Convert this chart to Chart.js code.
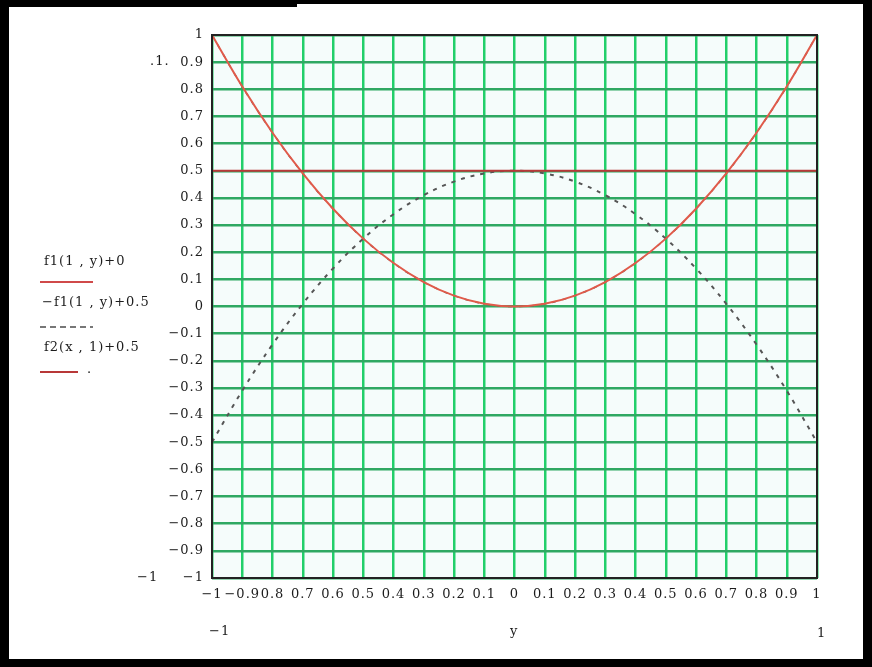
<!DOCTYPE html>
<html>
<head>
<meta charset="utf-8">
<script src="https://cdn.jsdelivr.net/npm/chart.js@4"></script>
<style>
  body { margin: 0; width: 872px; height: 667px; background: #000; position: relative; overflow: hidden; }
  #sheet { position: absolute; left: 9px; top: 7px; width: 854px; height: 652px; background: #fff; }
  #notch { position: absolute; left: 297px; top: 4px; width: 566px; height: 4px; background: #fff; }
  canvas { position: absolute; left: 0; top: 0; }
  .lbl { position: absolute; font-family: "DejaVu Serif", serif; font-size: 13px; letter-spacing: 1px; color: #1c1c1c; white-space: nowrap; }
  .mark { position: absolute; height: 2px; }
</style>
</head>
<body>
<div id="notch"></div>
<div id="sheet">
  <canvas id="graf" width="854" height="652"></canvas>
  <div class="lbl" style="left:35px;top:246px">f1(1 , y)+0</div>
  <div class="mark" style="left:31px;top:274px;width:53px;background:#d04a4a"></div>
  <div class="lbl" style="left:33px;top:287px">&minus;f1(1 , y)+0.5</div>
  <div class="mark" style="left:31px;top:319px;width:53px;background:repeating-linear-gradient(90deg,#777 0 6px,transparent 6px 10px)"></div>
  <div class="lbl" style="left:35px;top:332px">f2(x , 1)+0.5</div>
  <div class="mark" style="left:31px;top:364px;width:38px;background:#b83838"></div>
  <div class="lbl" style="left:78px;top:354px">.</div>
  <div class="lbl" style="left:141px;top:46px">.1.</div>
  <div class="lbl" style="left:128px;top:562px">&minus;1</div>
  <div class="lbl" style="left:200px;top:616px">&minus;1</div>
  <div class="lbl" style="left:501px;top:616px">y</div>
  <div class="lbl" style="left:808px;top:618px">1</div>
</div>
<script>
// valores
const yVals = [-1, -0.9, -0.8, -0.7, -0.6, -0.5, -0.4, -0.3, -0.2, -0.1, 0,
  0.1, 0.2, 0.3, 0.4, 0.5, 0.6, 0.7, 0.8, 0.9, 1];
const f1 = [1, 0.81, 0.64, 0.49, 0.36, 0.25, 0.16, 0.09, 0.04, 0.01, 0,
  0.01, 0.04, 0.09, 0.16, 0.25, 0.36, 0.49, 0.64, 0.81, 1];
const f1Neg = [-0.5, -0.31, -0.14, 0.01, 0.14, 0.25, 0.34, 0.41, 0.46, 0.49, 0.5,
  0.49, 0.46, 0.41, 0.34, 0.25, 0.14, 0.01, -0.14, -0.31, -0.5];
const f2 = [0.5, 0.5, 0.5, 0.5, 0.5, 0.5, 0.5, 0.5, 0.5, 0.5, 0.5,
  0.5, 0.5, 0.5, 0.5, 0.5, 0.5, 0.5, 0.5, 0.5, 0.5];

// etiquetas tal como aparecen (se pisan unas con otras)
const xTicks = ["−1", "−0.9", "0.8", "0.7", "0.6", "0.5", "0.4", "0.3", "0.2", "0.1", "0",
  "0.1", "0.2", "0.3", "0.4", "0.5", "0.6", "0.7", "0.8", "0.9", "1"];
const yTicks = ["−1", "−0.9", "−0.8", "−0.7", "−0.6", "−0.5", "−0.4", "−0.3", "−0.2", "−0.1", "0",
  "0.1", "0.2", "0.3", "0.4", "0.5", "0.6", "0.7", "0.8", "0.9", "1"];

const puntos = (arr) => yVals.map((x, i) => ({ x: x, y: arr[i] }));

// fondo y marco del area del grafico
const marco = {
  id: "marco",
  beforeDraw(chart) {
    const { ctx, chartArea: a } = chart;
    ctx.letterSpacing = "1px"; // los numeros del original van muy separados
    ctx.save();
    ctx.fillStyle = "#f5fcfb";
    ctx.fillRect(a.left, a.top, a.width, a.height);
    ctx.restore();
  },
  afterDraw(chart) {
    const { ctx, chartArea: a } = chart;
    ctx.save();
    ctx.strokeStyle = "#222";
    ctx.lineWidth = 2;
    ctx.strokeRect(a.left, a.top, a.width, a.height);
    ctx.restore();
  },
};

const ctx = document.getElementById("graf").getContext("2d");
new Chart(ctx, {
  type: "line",
  data: {
    datasets: [
      {
        label: "f2(x,1)+0.5",
        data: puntos(f2),
        borderColor: "#b83838",
        borderWidth: 2,
        pointRadius: 0,
      },
      {
        label: "f1(1,y)+0",
        data: puntos(f1),
        borderColor: "#e05a4a",
        borderWidth: 2,
        pointRadius: 0,
        tension: 0.4,
      },
      {
        label: "",
        data: puntos(f1),
        borderColor: "#555",
        borderWidth: 1.5,
        borderDash: [4, 7],
        pointRadius: 0,
        tension: 0.4,
      },
      {
        label: "-f1(1,y)+0.5",
        data: puntos(f1Neg),
        borderColor: "#555",
        borderWidth: 2,
        borderDash: [4, 6],
        pointRadius: 0,
        tension: 0.4,
      },
    ],
  },
  options: {
    responsive: false,
    animation: false,
    layout: { padding: { left: 0, top: 28, right: 46, bottom: 0 } },
    plugins: { legend: { display: false }, tooltip: { enabled: false } },
    scales: {
      x: {
        type: "linear",
        min: -1,
        max: 1,
        border: { display: false },
        grid: { color: "#22cf6a", lineWidth: 2.5, drawTicks: false },
        ticks: {
          stepSize: 0.1,
          autoSkip: false,
          maxRotation: 0,
          padding: 9,
          color: "#1c1c1c",
          font: { family: "DejaVu Serif", size: 13 },
          callback: (v, i) => xTicks[i],
        },
        afterFit: (s) => { s.height = 81; },
      },
      y: {
        type: "linear",
        min: -1,
        max: 1,
        border: { display: false },
        grid: { color: "#2fa862", lineWidth: 2.5, drawTicks: false },
        ticks: {
          stepSize: 0.1,
          autoSkip: false,
          padding: 8,
          color: "#1c1c1c",
          font: { family: "DejaVu Serif", size: 13 },
          callback: (v, i) => yTicks[i],
        },
        afterFit: (s) => { s.width = 203; },
      },
    },
  },
  plugins: [marco],
});
</script>
</body>
</html>
